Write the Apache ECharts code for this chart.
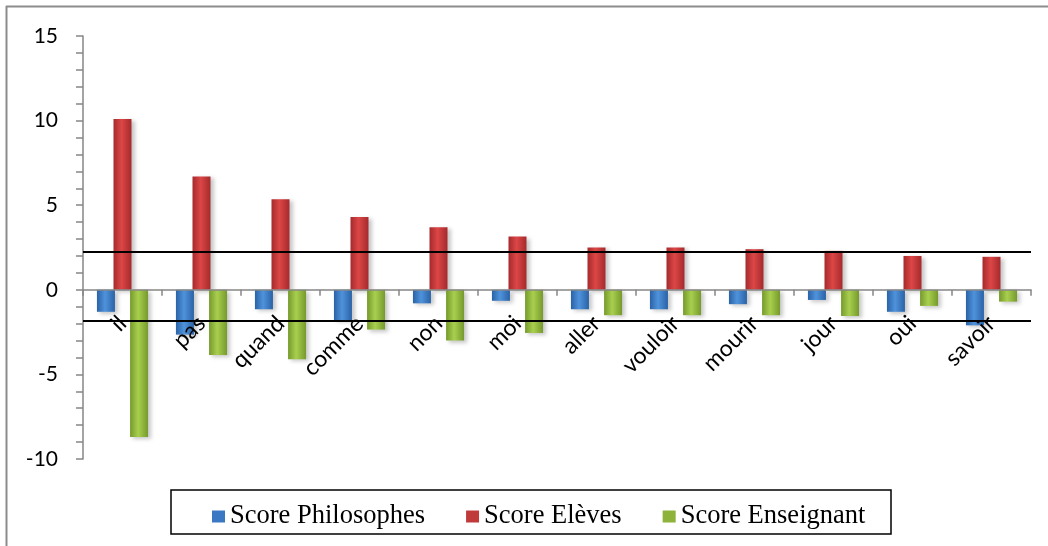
<!DOCTYPE html>
<html>
<head>
<meta charset="utf-8">
<script src="https://cdn.jsdelivr.net/npm/echarts@6/dist/echarts.min.js"></script>
<style>html,body{margin:0;padding:0;background:#fff}#c{width:1048px;height:546px}</style>
</head>
<body>
<div id="c"></div>
<script>
const categories = ['il','pas','quand','comme','non','moi','aller','vouloir','mourir','jour','oui','savoir'];
const scorePhilosophes = [-1.3, -2.65, -1.15, -1.8, -0.8, -0.65, -1.15, -1.15, -0.85, -0.6, -1.3, -2.1];
const scoreEleves = [10.1, 6.7, 5.35, 4.3, 3.7, 3.15, 2.5, 2.5, 2.4, 2.3, 2.0, 1.95];
const scoreEnseignant = [-8.7, -3.85, -4.1, -2.35, -3.0, -2.55, -1.5, -1.5, -1.5, -1.55, -0.95, -0.7];
const thresholds = [2.22, -1.85];
const seriesNames = ['Score Philosophes', 'Score Elèves', 'Score Enseignant'];
const yTicks = { min: -10, max: 15, interval: 5 };

const gridTop = 36, gridBottom = 87, chartH = 546;
const plotH = chartH - gridTop - gridBottom;
// offset that moves the category axis (line, ticks, labels) from the grid bottom to value 0
const zeroOffset = -plotH * (0 - yTicks.min) / (yTicks.max - yTicks.min);

function grad(edge, mid) {
  return new echarts.graphic.LinearGradient(0, 0, 1, 0, [
    { offset: 0, color: edge }, { offset: 0.45, color: mid }, { offset: 1, color: edge }
  ]);
}
const colors = [grad('#2a62a6', '#4f93dc'), grad('#a52a2c', '#dc4646'), grad('#759a2c', '#a9cf4f')];
const legendColors = ['#3a78c4', '#c03a3c', '#8db33a'];

const chart = echarts.init(document.getElementById('c'), null, { renderer: 'canvas' });
const shadow = { shadowColor: 'rgba(0,0,0,0.22)', shadowBlur: 4, shadowOffsetX: 3, shadowOffsetY: 2 };
const datas = [scorePhilosophes, scoreEleves, scoreEnseignant];
const series = datas.map((d, i) => ({
  name: seriesNames[i],
  type: 'bar',
  data: d,
  barWidth: 18,
  barGap: '-8%',
  itemStyle: Object.assign({ color: colors[i] }, shadow),
  emphasis: { disabled: true },
  animation: false,
  z: 2 + i
}));
series[0].markLine = {
  silent: true,
  symbol: 'none',
  label: { show: false },
  lineStyle: { color: '#000', width: 2, type: 'solid' },
  data: thresholds.map(v => ({ yAxis: v })),
  animation: false
};

chart.setOption({
  animation: false,
  grid: { left: 83, right: 17, top: gridTop, bottom: gridBottom, containLabel: false },
  legend: {
    data: seriesNames.map((n, i) => ({ name: n, itemStyle: { color: legendColors[i] } })),
    left: 207,
    top: 498,
    icon: 'rect',
    itemWidth: 13,
    itemHeight: 12,
    itemGap: 41,
    textStyle: { fontFamily: 'Liberation Serif', fontSize: 26.5, color: '#000' },
    selectedMode: false
  },
  xAxis: {
    type: 'category',
    data: categories,
    position: 'bottom',
    offset: zeroOffset,
    z: 10,
    axisLine: { onZero: false, lineStyle: { color: '#868686', width: 1.5 } },
    axisTick: { show: true, length: 6, lineStyle: { color: '#868686', width: 1.5 } },
    axisLabel: { rotate: 45, margin: 30, fontFamily: 'Lato', fontSize: 23, color: '#000', interval: 0 },
    splitLine: { show: false }
  },
  yAxis: {
    type: 'value',
    min: yTicks.min,
    max: yTicks.max,
    interval: yTicks.interval,
    axisLine: { show: true, lineStyle: { color: '#868686', width: 1.5 } },
    axisTick: { show: true, length: 7, lineStyle: { color: '#868686', width: 1.5 } },
    minorTick: { show: true, splitNumber: 5, length: 7, lineStyle: { color: '#868686', width: 1.5 } },
    axisLabel: { margin: 25, fontFamily: 'Lato', fontSize: 21, color: '#000' },
    splitLine: { show: false }
  },
  series: series,
  graphic: [
    { type: 'line', shape: { x1: 6, y1: 6.5, x2: 1048, y2: 6.5 }, style: { stroke: '#8c8c8c', lineWidth: 2 }, silent: true },
    { type: 'line', shape: { x1: 6.5, y1: 6, x2: 6.5, y2: 546 }, style: { stroke: '#8c8c8c', lineWidth: 2 }, silent: true },
    { type: 'rect', shape: { x: 171, y: 490, width: 720, height: 44 }, style: { fill: 'none', stroke: '#000', lineWidth: 1.5 }, silent: true, z: 10 }
  ]
});
</script>
</body>
</html>
